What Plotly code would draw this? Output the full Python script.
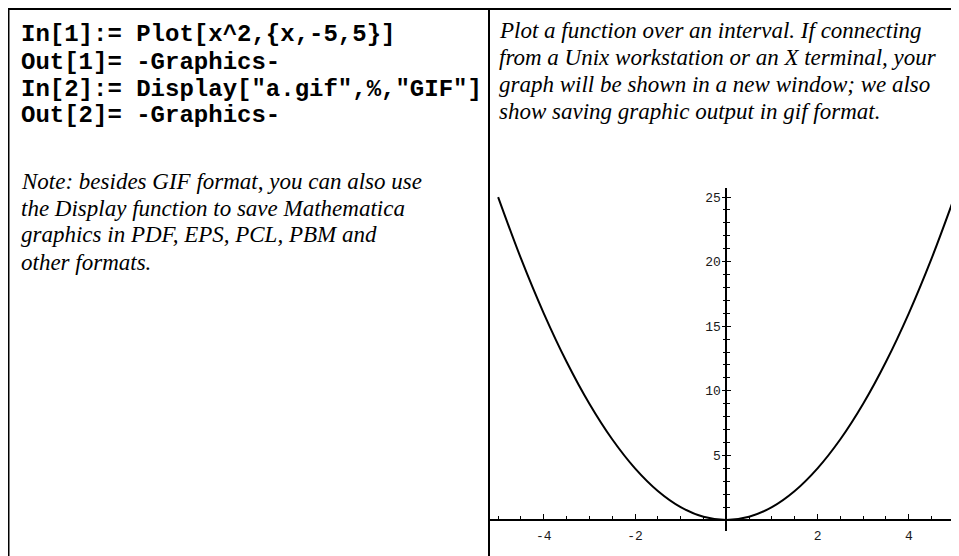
import plotly.graph_objects as go

# values: Plot[x^2, {x, -5, 5}]
x_vals = [-5, -4.5, -4, -3.5, -3, -2.5, -2, -1.5, -1, -0.5, 0,
          0.5, 1, 1.5, 2, 2.5, 3, 3.5, 4, 4.5, 5]
y_vals = [25, 20.25, 16, 12.25, 9, 6.25, 4, 2.25, 1, 0.25, 0,
          0.25, 1, 2.25, 4, 6.25, 9, 12.25, 16, 20.25, 25]

x_ticks = [-4, -2, 2, 4]
x_tick_labels = ["-4", "-2", "2", "4"]
y_ticks = [5, 10, 15, 20, 25]
y_tick_labels = ["5", "10", "15", "20", "25"]

code_lines = [
    'In[1]:= Plot[x^2,{x,-5,5}]',
    'Out[1]= -Graphics-',
    'In[2]:= Display["a.gif",%,"GIF"]',
    'Out[2]= -Graphics-',
]
note_lines = [
    "Note: besides GIF format, you can also use",
    "the Display function to save Mathematica",
    "graphics in PDF, EPS, PCL, PBM and",
    "other formats.",
]
desc_lines = [
    "Plot a function over an interval. If connecting",
    "from a Unix workstation or an X terminal, your",
    "graph will be shown in a new window; we also",
    "show saving graphic output in gif format.",
]

# the page body has an 8px margin, so the figure is that much smaller
OFF = 8
W, H = 959 - OFF, 556 - OFF


def px(x):
    return (x - OFF) / W


def py(y):
    return (H - (y - OFF)) / H


X_RANGE = [-5.2, 5.1]
Y_RANGE = [-0.85, 25.7]
plot_left = 489  # page pixel where the right cell starts
x_dom = [px(plot_left), 1.0]
y_dom = [py(531), py(188)]
# where the axes cross (data 0,0) in paper units
x0_paper = x_dom[0] + (0 - X_RANGE[0]) / (X_RANGE[1] - X_RANGE[0]) * (x_dom[1] - x_dom[0])
y0_paper = y_dom[0] + (0 - Y_RANGE[0]) / (Y_RANGE[1] - Y_RANGE[0]) * (y_dom[1] - y_dom[0])

tick_font = dict(family="Liberation Mono", size=13, color="#1a1a1a")

fig = go.Figure()
fig.add_trace(go.Scatter(x=x_vals, y=y_vals, mode="lines",
                         line=dict(color="black", width=2, shape="spline", smoothing=1),
                         showlegend=False, hoverinfo="skip"))

fig.update_layout(
    width=W, height=H,
    margin=dict(l=0, r=0, t=0, b=0),
    paper_bgcolor="white", plot_bgcolor="white",
    showlegend=False,
    xaxis=dict(domain=x_dom, range=X_RANGE, anchor="free", position=y0_paper,
               showgrid=False, zeroline=False, showline=True, linecolor="black", linewidth=1.5,
               tickmode="array", tickvals=x_ticks, ticktext=x_tick_labels,
               ticks="inside", ticklen=5, tickwidth=1.2, tickcolor="black",
               ticklabelstandoff=4, tickfont=tick_font,
               minor=dict(tickmode="linear", tick0=0, dtick=0.5, ticks="inside",
                          ticklen=3, tickwidth=1.2, tickcolor="black")),
    yaxis=dict(domain=y_dom, range=Y_RANGE, anchor="free", position=x0_paper, side="left",
               showgrid=False, zeroline=False, showline=True, linecolor="black", linewidth=1.5,
               tickmode="array", tickvals=y_ticks, ticktext=y_tick_labels,
               ticks="outside", ticklen=4, tickwidth=1.2, tickcolor="black",
               ticklabelstandoff=-2, tickfont=tick_font,
               minor=dict(tickmode="linear", tick0=0, dtick=1, ticks="outside",
                          ticklen=3, tickwidth=1.2, tickcolor="black")),
    yaxis2=dict(overlaying="y", range=Y_RANGE, anchor="free", position=x0_paper, side="left",
                showgrid=False, zeroline=False, showline=False, showticklabels=False,
                tickmode="array", tickvals=y_ticks,
                ticks="inside", ticklen=4, tickwidth=1.2, tickcolor="black",
                minor=dict(tickmode="linear", tick0=0, dtick=1, ticks="inside",
                           ticklen=3, tickwidth=1.2, tickcolor="black")),
)
# empty trace so the second y axis (right half of the tick crosses) is drawn
fig.add_trace(go.Scatter(x=[None], y=[None], yaxis="y2", showlegend=False, hoverinfo="skip"))

# table borders
border = dict(color="black", width=2)
fig.add_shape(type="line", xref="paper", yref="paper", x0=0, x1=1, y0=py(9), y1=py(9), line=border)
fig.add_shape(type="line", xref="paper", yref="paper", x0=px(8.5), x1=px(8.5), y0=0, y1=py(8), line=border)
fig.add_shape(type="line", xref="paper", yref="paper", x0=px(plot_left), x1=px(plot_left),
              y0=0, y1=py(8), line=border)

code_font = dict(family="Liberation Mono", size=24, color="black")
serif_font = dict(family="Liberation Serif", size=23, color="black")

for i, line in enumerate(code_lines):
    fig.add_annotation(text="<b>" + line + "</b>", xref="paper", yref="paper",
                       x=px(19), y=py(35 + i * 27), xanchor="left", yanchor="middle",
                       showarrow=False, font=code_font)
for i, line in enumerate(note_lines):
    fig.add_annotation(text="<i>" + line + "</i>", xref="paper", yref="paper",
                       x=px(19), y=py(181 + i * 27), xanchor="left", yanchor="middle",
                       showarrow=False, font=serif_font)
for i, line in enumerate(desc_lines):
    fig.add_annotation(text="<i>" + line + "</i>", xref="paper", yref="paper",
                       x=px(497), y=py(31 + i * 26.7), xanchor="left", yanchor="middle",
                       showarrow=False, font=serif_font)

fig.write_html("out.html")
